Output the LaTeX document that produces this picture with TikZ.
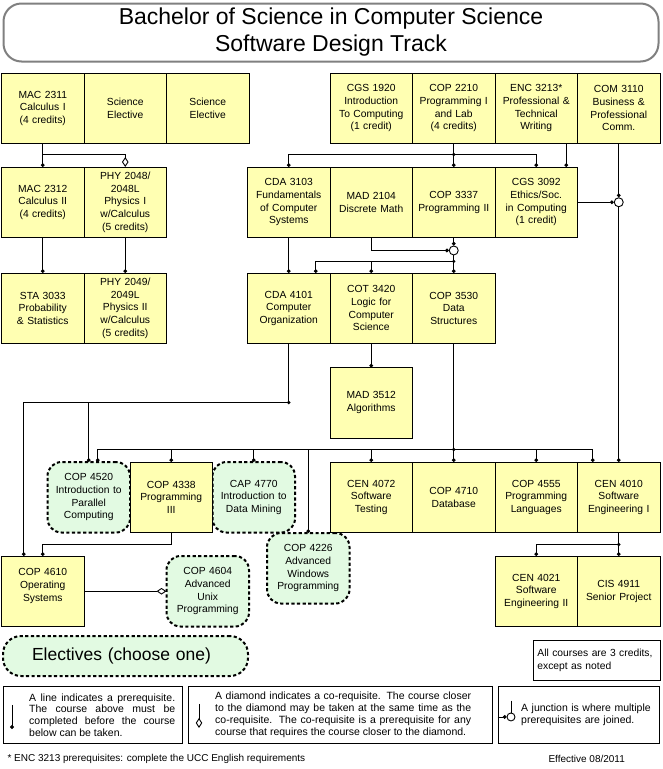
\documentclass[tikz,border=0pt]{standalone}
\usepackage{fontspec}
\setmainfont{Liberation Sans}
\usetikzlibrary{positioning}
\usetikzlibrary{arrows.meta}
\definecolor{courseyellow}{RGB}{255,255,178}
\definecolor{electgreen}{RGB}{226,250,226}
\definecolor{titlegray}{RGB}{128,128,128}
\hyphenpenalty=10000
\exhyphenpenalty=10000

\begin{document}
\begin{tikzpicture}[x=1pt, y=-1pt,
	course/.style={draw, fill=courseyellow, line width=0.9pt, outer sep=0pt, minimum width=82.5pt, minimum height=70.5pt, text width=78pt, inner xsep=2pt, inner ysep=2pt, align=center, font=\fontsize{10.3}{12.6}\selectfont},
	elective/.style={course, fill=electgreen, rounded corners=14pt, line width=2pt, dash pattern=on 3.2pt off 2.4pt},
	pre/.style={line width=0.9pt, -{Circle[length=3.8pt]}},
	coreq/.style={line width=0.9pt, -{Diamond[open, length=10pt, width=6.5pt]}},
	junc/.style={circle, draw, line width=0.9pt, fill=white, inner sep=0pt, minimum size=9pt},
	legbox/.style={draw, line width=0.9pt, fill=white, anchor=north west, minimum height=57pt},
	legtext/.style={anchor=west, inner sep=0pt, align=justify, font=\fontsize{10.5}{11.8}\selectfont}]
		
		\useasboundingbox (0,0) rectangle (662,769);
		
		\node[draw=titlegray, line width=2pt, rounded corners=18pt, minimum width=655pt, minimum height=58pt, align=center, font=\fontsize{23}{27}\selectfont] (TITLE) at (331,32.5) {Bachelor of Science in Computer Science\\Software Design Track};
		
		\node[course, anchor=north west] (MAC2311) at (1.5,73) {MAC 2311\\Calculus I\\(4 credits)};
		\node[course, right=0pt of MAC2311] (SCIA) {Science\\Elective};
		\node[course, right=0pt of SCIA] (SCIB) {Science\\Elective};
		\node[course, anchor=north west] (CGS1920) at (330,73) {CGS 1920\\Introduction\\To Computing\\(1 credit)};
		\node[course, right=0pt of CGS1920] (COP2210) {COP 2210\\Programming I\\and Lab\\(4 credits)};
		\node[course, right=0pt of COP2210] (ENC3213) {ENC 3213*\\Professional \&\\Technical\\Writing};
		\node[course, right=0pt of ENC3213] (COM3110) {COM 3110\\Business \&\\Professional\\Comm.};
		
		\node[course, below=23.5pt of MAC2311] (MAC2312) {MAC 2312\\Calculus II\\(4 credits)};
		\node[course, right=0pt of MAC2312] (PHY2048) {PHY 2048/\\2048L\\Physics I\\w/Calculus\\(5 credits)};
		\node[course, anchor=north west] (CDA3103) at (247.5,167) {CDA 3103\\Fundamentals\\of Computer\\Systems};
		\node[course, right=0pt of CDA3103] (MAD2104) {MAD 2104\\Discrete Math};
		\node[course, right=0pt of MAD2104] (COP3337) {COP 3337\\Programming II};
		\node[course, right=0pt of COP3337] (CGS3092) {CGS 3092\\Ethics/Soc.\\in Computing\\(1 credit)};
		
		\node[course, below=35.5pt of MAC2312] (STA3033) {STA 3033\\Probability\\\& Statistics};
		\node[course, right=0pt of STA3033] (PHY2049) {PHY 2049/\\2049L\\Physics II\\w/Calculus\\(5 credits)};
		\node[course, below=35.5pt of CDA3103] (CDA4101) {CDA 4101\\Computer\\Organization};
		\node[course, right=0pt of CDA4101] (COT3420) {COT 3420\\Logic for\\Computer\\Science};
		\node[course, right=0pt of COT3420] (COP3530) {COP 3530\\Data\\Structures};
		
		\node[course, below=24pt of COT3420] (MAD3512) {MAD 3512\\Algorithms};
		
		\node[course, below=24pt of MAD3512] (CEN4072) {CEN 4072\\Software\\Testing};
		\node[course, right=0pt of CEN4072] (COP4710) {COP 4710\\Database};
		\node[course, right=0pt of COP4710] (COP4555) {COP 4555\\Programming\\Languages};
		\node[course, right=0pt of COP4555] (CEN4010) {CEN 4010\\Software\\Engineering I};
		
		\node[elective, anchor=north west] (COP4520) at (47.5,462) {COP 4520\\Introduction to\\Parallel\\Computing};
		\node[elective, anchor=north west] (CAP4770) at (212.5,462) {CAP 4770\\Introduction to\\Data Mining};
		\node[elective, anchor=north west] (COP4226) at (267,533) {COP 4226\\Advanced\\Windows\\Programming};
		\node[course, anchor=north west] (COP4338) at (130,462) {COP 4338\\Programming\\III};
		
		\node[course, anchor=north west] (COP4610) at (1.5,556) {COP 4610\\Operating\\Systems\\\mbox{}};
		\node[elective, anchor=north west] (COP4604) at (166.5,556) {COP 4604\\Advanced\\Unix\\Programming};
		\node[course, anchor=north west] (CEN4021) at (495,556) {CEN 4021\\Software\\Engineering II};
		\node[course, right=0pt of CEN4021] (CIS4911) {CIS 4911\\Senior Project};
		
		\node[junc] (J1) at (COM3110.south |- CGS3092.east) {};
		\node[junc, below=8pt of COP3337] (J2) {};
		\coordinate[below=11pt of COP2210] (B1);
		\coordinate[below=6pt of J2] (B2);
		\coordinate[below=59pt of CDA4101] (B3);
		\coordinate[below=106pt of COP3530] (B4);
		\coordinate[below=12pt of CEN4010] (B5);
		
		\draw[pre] (MAC2311) -- (MAC2312);
		\draw[pre] (MAC2312) -- (STA3033);
		\draw[pre] (PHY2048) -- (PHY2049);
		\draw[coreq] (MAC2311.south) ++(0,11) -| (PHY2048.north);
		
		\draw[pre] (COP2210) -- (COP3337);
		\draw[pre] (B1) -| (CDA3103.north);
		\draw[pre] (B1) -| (CGS3092.north);
		\draw[pre] ([xshift=30pt]ENC3213.south) -- ([xshift=30pt]CGS3092.north);
		\draw[pre] (CGS3092.east) -- (J1);
		\draw[pre] (COM3110) -- (J1);
		\draw[pre] (J1) -- (CEN4010);
		
		\draw[pre] (MAD2104.south) |- (J2);
		\draw[pre] (COP3337) -- (J2);
		\draw[line width=0.9pt] (J2) -- (B2);
		\draw[pre] (B2) -- (COP3530);
		\draw[pre] (B2) -| (COT3420.north);
		\draw[pre] (B2) -| ([xshift=27pt]CDA4101.north);
		\draw[pre] (CDA3103) -- (CDA4101);
		\draw[pre] (COT3420) -- (MAD3512);
		
		\draw[line width=0.9pt] (CDA4101) -- (B3);
		\draw[pre] (B3) -| (COP4520.north);
		\draw[pre] (B3) -| ([xshift=-19pt]COP4610.north);
		
		\draw[line width=0.9pt] (COP3530) -- (B4);
		\draw[pre] (B4) -| ([xshift=9pt]COP4520.north);
		\draw[pre] (B4) -| (COP4338.north);
		\draw[pre] (B4) -| (CAP4770.north);
		\draw[pre] (B4) -| (COP4226.north);
		\draw[pre] (B4) -| (CEN4072.north);
		\draw[pre] (B4) -- (COP4710);
		\draw[pre] (B4) -| (COP4555.north);
		\draw[pre] (B4) -| ([xshift=-26pt]CEN4010.north);
		
		\draw[pre] (COP4338.south) -- ++(0,12) -| (COP4610.north);
		\draw[coreq] (COP4610) -- (COP4604);
		
		\draw[line width=0.9pt] (CEN4010) -- (B5);
		\draw[pre] (B5) -- (CIS4911);
		\draw[pre] (B5) -| (CEN4021.north);
		
		\foreach \b in {B1,B2,B3,B4,B5}
			\fill (\b) circle (1.8pt);
		
		\node[elective, anchor=north west, minimum width=245pt, minimum height=40pt, rounded corners=18pt, text width=187pt, inner xsep=29pt, align=left, font=\fontsize{17.5}{20}\selectfont] (ELECT) at (3,636) {Electives (choose one)};
		\node[draw, line width=0.8pt, anchor=north west, minimum width=127pt, minimum height=40pt, text width=119pt, inner xsep=4pt, align=left, font=\fontsize{10.3}{13}\selectfont] (NOTE) at (533,640) {All courses are 3 credits,\\except as noted};
		
		\node[legbox, minimum width=179pt] (LEG1) at (3,686) {};
		\node[legtext, text width=146pt] (LEGT1) at ([xshift=26pt]LEG1.west) {A line indicates a prerequisite. The course above must be completed before the course below can be taken.};
		\draw[pre] ([shift={(9pt,10pt)}]LEG1.west) -- ([shift={(9pt,-14pt)}]LEG1.west);
		
		\node[legbox, minimum width=304pt] (LEG2) at (188,686) {};
		\node[legtext, text width=256pt] (LEGT2) at ([xshift=27pt]LEG2.west) {A diamond indicates a co-requisite. The course closer to the diamond may be taken at the same time as the co-requisite. The co-requisite is a prerequisite for any course that requires the course closer to the diamond.};
		\draw[coreq] ([shift={(11pt,11pt)}]LEG2.west) -- ([shift={(11pt,-13pt)}]LEG2.west);
		
		\node[legbox, minimum width=161pt] (LEG3) at (498,686) {};
		\node[legtext, text width=130pt, align=left] (LEGT3) at ([xshift=23pt]LEG3.west) {A junction is where multiple prerequisites are joined.};
		\node[junc, minimum size=8pt] (J3) at ([shift={(13pt,-2pt)}]LEG3.west) {};
		\draw[line width=0.9pt] ([yshift=12pt]J3.north) -- (J3.north);
		\draw[pre] ([xshift=-9pt]J3.west) -- (J3.west);
		
		\node[anchor=west, font=\fontsize{10}{12}\selectfont] (FOOT) at (4,759) {* ENC 3213 prerequisites: complete the UCC English requirements};
		\node[anchor=west, font=\fontsize{10}{12}\selectfont] (EFF) at (545,759) {Effective 08/2011};
		\end{tikzpicture}
\end{document}
